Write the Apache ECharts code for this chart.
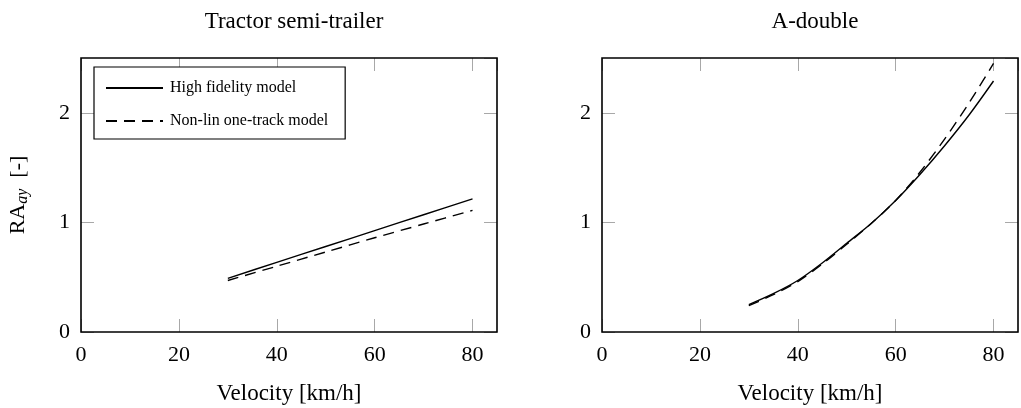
<!DOCTYPE html>
<html>
<head>
<meta charset="utf-8">
<script src="https://cdn.jsdelivr.net/npm/echarts@6/dist/echarts.min.js"></script>
<style>
  html, body { margin: 0; padding: 0; background: #fff; }
  #chart { width: 1021px; height: 408px; }
</style>
</head>
<body>
<div id="chart"></div>
<script>
// Velocity sample points [km/h]
const velocityLeft = [30, 40, 50, 60, 70, 80];
const velocityRight = [30, 35, 40, 45, 50, 55, 60, 65, 70, 75, 80];

// Tractor semi-trailer: rearward amplification of lateral acceleration
const tstHighFidelity = [0.49, 0.635, 0.78, 0.925, 1.07, 1.215];
const tstOneTrack = [0.47, 0.60, 0.73, 0.86, 0.985, 1.11];

// A-double
const adHighFidelity = [0.25, 0.35, 0.47, 0.63, 0.81, 0.99, 1.20, 1.44, 1.70, 1.98, 2.29];
const adOneTrack = [0.24, 0.34, 0.46, 0.62, 0.80, 0.99, 1.20, 1.46, 1.76, 2.09, 2.45];

const panelTitles = ['Tractor semi-trailer', 'A-double'];
const xTicks = [0, 20, 40, 60, 80];
const yTicks = [0, 1, 2];
const seriesNames = ['High fidelity model', 'Non-lin one-track model'];

const FONT = '"Liberation Serif", "DejaVu Serif", serif';
const TICK_GRAY = '#a8a8a8';

const grids = [
  { left: 81, top: 58, width: 416, height: 274 },
  { left: 602, top: 58, width: 416, height: 274 }
];

function pairs(xs, ys) {
  return xs.map((x, i) => [x, ys[i]]);
}

const tickStyle = { show: true, inside: true, length: 13, lineStyle: { color: TICK_GRAY, width: 1 } };

const xAxes = [];
const yAxes = [];
grids.forEach((g, gi) => {
  // bottom axis with labels
  xAxes.push({
    type: 'value', gridIndex: gi, min: 0, max: 85, interval: 20, position: 'bottom',
    name: 'Velocity [km/h]', nameLocation: 'middle', nameGap: 50,
    nameTextStyle: { fontFamily: FONT, fontSize: 23, color: '#000' },
    axisLine: { show: false, onZero: false },
    axisTick: tickStyle,
    axisLabel: { fontFamily: FONT, fontSize: 22, color: '#000', margin: 12, showMaxLabel: false,
      formatter: v => (xTicks.indexOf(v) >= 0 ? String(v) : '') },
    splitLine: { show: false }
  });
  // mirrored ticks along the top edge
  xAxes.push({
    type: 'value', gridIndex: gi, min: 0, max: 85, interval: 20, position: 'top',
    axisLine: { show: false, onZero: false },
    axisTick: tickStyle,
    axisLabel: { show: false }, splitLine: { show: false }
  });
  yAxes.push({
    type: 'value', gridIndex: gi, min: 0, max: 2.5, interval: 1, position: 'left',
    name: gi === 0 ? '{a|RA}{s|ay}{a|  [-]}' : '',
    nameLocation: 'middle', nameGap: 50, nameRotate: 90,
    nameTextStyle: {
      fontFamily: FONT, color: '#000',
      rich: {
        a: { fontFamily: FONT, fontSize: 22, color: '#000', lineHeight: 26 },
        s: { fontFamily: FONT, fontSize: 16, fontStyle: 'italic', color: '#000', lineHeight: 26, padding: [10, 0, 0, 0] }
      }
    },
    axisLine: { show: false, onZero: false },
    axisTick: tickStyle,
    axisLabel: { fontFamily: FONT, fontSize: 22, color: '#000', margin: 11, padding: [14, 0, 0, 0], showMaxLabel: false,
      formatter: v => (yTicks.indexOf(v) >= 0 ? String(v) : '') },
    splitLine: { show: false }
  });
  // mirrored ticks along the right edge
  yAxes.push({
    type: 'value', gridIndex: gi, min: 0, max: 2.5, interval: 1, position: 'right',
    axisLine: { show: false, onZero: false },
    axisTick: tickStyle,
    axisLabel: { show: false }, splitLine: { show: false }
  });
});

const solidStyle = { color: '#000', width: 1.4, type: 'solid' };
const dashStyle = { color: '#000', width: 1.4, type: [11, 7] };

function lineSeries(name, gi, data, style) {
  return {
    name: name, type: 'line', xAxisIndex: gi * 2, yAxisIndex: gi * 2,
    data: data, showSymbol: false, symbol: 'none', smooth: 0.3,
    lineStyle: style, itemStyle: { color: '#000' }, animation: false, z: 3
  };
}

const option = {
  backgroundColor: '#fff',
  animation: false,
  title: panelTitles.map((t, i) => ({
    text: t, left: grids[i].left + grids[i].width / 2, top: 5, textAlign: 'center',
    textStyle: { fontFamily: FONT, fontSize: 23, fontWeight: 'normal', color: '#000' }
  })),
  legend: {
    data: seriesNames, orient: 'vertical', left: 94, top: 67,
    itemWidth: 57, itemHeight: 14, itemGap: 13,
    padding: [11, 17, 8, 11],
    borderColor: '#000', borderWidth: 1.2, backgroundColor: '#fff',
    itemStyle: { opacity: 0 },
    textStyle: { fontFamily: FONT, fontSize: 16, color: '#000', lineHeight: 20, padding: [0, 0, 0, 2] },
    selectedMode: false
  },
  grid: grids.map(g => Object.assign({
    show: true, borderColor: '#000', borderWidth: 1.6, backgroundColor: 'transparent', z: 5,
    containLabel: false, outerBoundsMode: 'none'
  }, g)),
  xAxis: xAxes,
  yAxis: yAxes,
  series: [
    lineSeries(seriesNames[0], 0, pairs(velocityLeft, tstHighFidelity), solidStyle),
    lineSeries(seriesNames[1], 0, pairs(velocityLeft, tstOneTrack), dashStyle),
    lineSeries(seriesNames[0], 1, pairs(velocityRight, adHighFidelity), solidStyle),
    lineSeries(seriesNames[1], 1, pairs(velocityRight, adOneTrack), dashStyle)
  ]
};

const chart = echarts.init(document.getElementById('chart'), null, { renderer: 'canvas' });
chart.setOption(option);
</script>
</body>
</html>
